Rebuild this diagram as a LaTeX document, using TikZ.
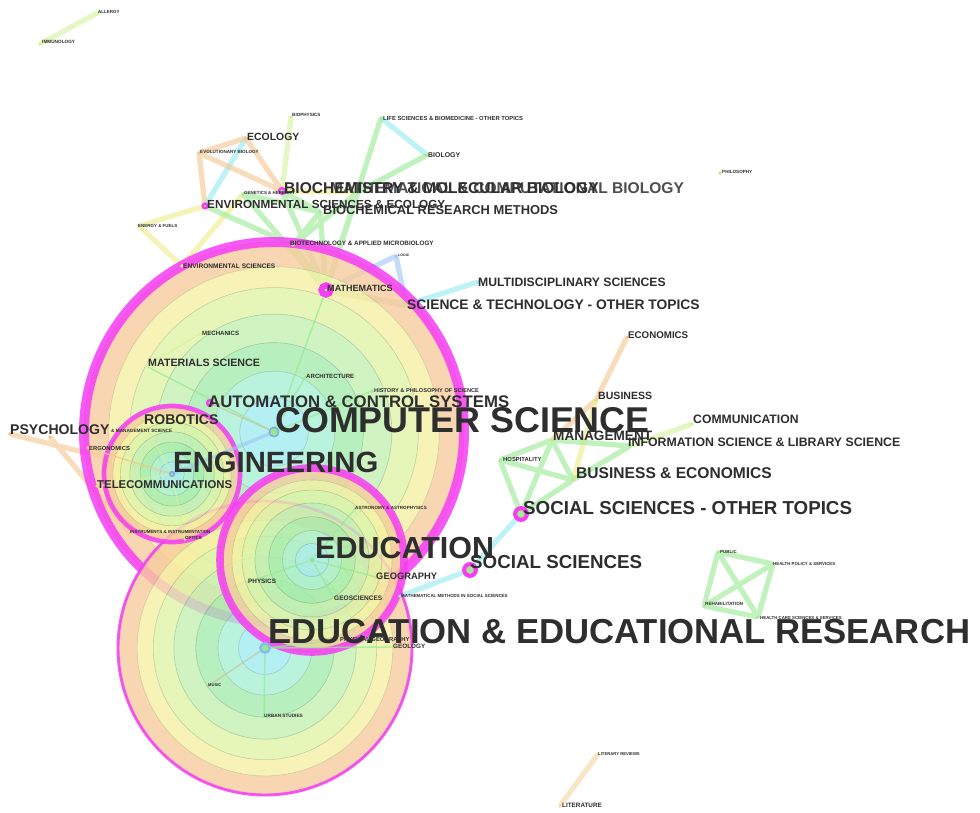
\documentclass[tikz,border=0pt]{standalone}
\usepackage{fontspec}
\setmainfont{Liberation Sans}
\usetikzlibrary{positioning}
\usetikzlibrary{calc}

\definecolor{labgray}{HTML}{2E2E2E}
\definecolor{burstmag}{HTML}{F53DF5}
\definecolor{ringpeach}{HTML}{F7CC9E}
\definecolor{ringyellow}{HTML}{F6F0A4}
\definecolor{ringlime}{HTML}{E0F4A8}
\definecolor{ringlgreen}{HTML}{C4F0B2}
\definecolor{ringgreen}{HTML}{A6EDAE}
\definecolor{ringmint}{HTML}{A8F0D2}
\definecolor{ringcyan}{HTML}{A2ECF2}
\definecolor{hubblue}{HTML}{7FA8E8}
\definecolor{hubgreen}{HTML}{9BE58C}
\definecolor{dotyellow}{HTML}{D9E07A}
\definecolor{dotgreen}{HTML}{A8E890}
\definecolor{lgreen}{HTML}{98EA92}
\definecolor{lyg}{HTML}{D4F29C}
\definecolor{lcyan}{HTML}{92EAF0}
\definecolor{lorange}{HTML}{F5C58E}
\definecolor{lyellow}{HTML}{EFEE8A}
\definecolor{lblue}{HTML}{9EC6F2}
\definecolor{lolive}{HTML}{C6C6A0}
\definecolor{lwheat}{HTML}{F2D7A2}

\pgfdeclarelayer{paper}
\pgfdeclarelayer{edges}
\pgfdeclarelayer{rings}
\pgfdeclarelayer{twigs}
\pgfsetlayers{paper,edges,rings,twigs,main}

% tree rings of a cluster node: centre, radius, width of the burst ring
\newcommand{\treerings}[3]{%
  \begin{scope}[transparency group, opacity=0.8]
    \foreach \rf/\rc in {1/ringpeach, 0.87/ringyellow, 0.76/ringlime, 0.62/ringlgreen,
                         0.47/ringgreen, 0.32/ringmint, 0.18/ringcyan}
      \filldraw[fill=\rc, draw=\rc!80!black, line width=0.5pt] (#1) circle[radius=\rf*#2];
  \end{scope}
  \draw[burstmag, line width=#3, opacity=0.85] (#1) circle[radius=#2];
}

\begin{document}
\begin{tikzpicture}[x=0.03cm, y=-0.03cm,
    lab/.style={anchor=west, inner sep=0pt, text=labgray,
      font=\bfseries\fontsize{#1}{#1}\selectfont},
    dot/.style={circle, fill=#1, inner sep=0pt, minimum size=3pt},
    dot/.default=dotyellow,
    hub/.style={circle, draw=hubblue, line width=1.2pt, fill=hubgreen,
      inner sep=0pt, minimum size=6pt},
    burst/.style={circle, draw=burstmag, line width=#1, fill=dotgreen,
      inner sep=0pt, minimum size=4pt},
    tie/.style={draw=#1, line width=4.5pt, line cap=round, draw opacity=0.6},
    twig/.style={draw=#1, line width=1.2pt, draw opacity=0.75}]

\useasboundingbox (0,0) rectangle (980,812);
\begin{pgfonlayer}{paper}
\fill[white] (0,0) rectangle (980,812);
\end{pgfonlayer}

% cluster centres and bursts
\node[hub, minimum size=8pt] (cs) at (274,432) {};
\node[hub, minimum size=4pt] (engineering) at (172,474) {};
\node[hub, draw=ringcyan] (education) at (312,560) {};
\node[hub, draw=ringcyan!80!blue, line width=2pt, minimum size=8pt] (edures) at (265,648) {};
\node[burst=5pt, minimum size=8pt] (mathematics) at (326,290) {};
\node[burst=3.5pt, minimum size=10pt] (socsciother) at (521,514) {};
\node[burst=3.5pt, minimum size=10pt] (socsci) at (470,570) {};
\node[burst=2pt, minimum size=5pt] (biochem) at (282,191) {};
\node[burst=2pt] (envscieco) at (205,206) {};
\node[burst=2pt, minimum size=5pt] (automation) at (210,403) {};

% small nodes
\node[dot=lyg] (immunology) at (40,44) {};
\node[dot=lyg] (allergy) at (99,12) {};
\node[dot=lyg] (biophysics) at (291,117) {};
\node[dot=dotgreen] (lifesci) at (381,118) {};
\node[dot=dotgreen] (biology) at (427,155) {};
\node[dot=lorange] (ecology) at (246,138) {};
\node[dot=lorange] (evolbio) at (199,153) {};
\node[dot=dotgreen] (genetics) at (243,194) {};
\node[dot=dotgreen] (mathcompbio) at (358,192) {};
\node[dot=dotgreen] (biochemres) at (320,212) {};
\node[dot=lyellow] (energy) at (139,226) {};
\node[dot=dotgreen] (biotech) at (293,245) {};
\node[dot=lblue] (logic) at (396,256) {};
\node[dot=lyellow] (envsci) at (182,266) {};
\node[dot=lcyan] (multidisc) at (478,282) {};
\node[dot] (scitech) at (406,305) {};
\node[dot] (philosophy) at (720,173) {};
\node[dot=lyg] (mechanics) at (200,334) {};
\node[dot=lyg] (materials) at (146,366) {};
\node[dot=dotgreen] (architecture) at (305,377) {};
\node[dot=dotgreen] (history) at (372,391) {};
\node[dot=lorange] (psychology) at (10,434) {};
\node[dot=lorange] (orsm) at (50,437) {};
\node[dot] (robotics) at (143,421) {};
\node[dot=lorange] (ergonomics) at (88,448) {};
\node[dot] (telecom) at (97,486) {};
\node[dot=lorange] (instruments) at (130,533) {};
\node[dot] (optics) at (185,539) {};
\node[dot=dotgreen] (astronomy) at (355,509) {};
\node[dot] (geography) at (376,577) {};
\node[dot] (physics) at (248,582) {};
\node[dot] (geosciences) at (334,598) {};
\node[dot=lcyan] (mathmethods) at (400,596) {};
\node[dot] (physgeo) at (340,640) {};
\node[dot] (geology) at (393,647) {};
\node[dot=lolive] (music) at (208,686) {};
\node[dot=dotgreen] (urban) at (264,716) {};
\node[dot=lorange] (economics) at (627,337) {};
\node[dot] (business) at (596,400) {};
\node[dot=lyg] (communication) at (692,424) {};
\node[dot] (management) at (552,440) {};
\node[dot=dotgreen] (infosci) at (630,446) {};
\node[dot=dotgreen] (hospitality) at (500,460) {};
\node[dot] (buseco) at (573,480) {};
\node[dot=dotgreen] (public) at (718,552) {};
\node[dot=dotgreen] (healthpol) at (773,564) {};
\node[dot=dotgreen] (rehab) at (704,606) {};
\node[dot=dotgreen] (healthcare) at (758,617) {};
\node[dot=lwheat] (litrev) at (598,754) {};
\node[dot=lwheat] (literature) at (560,806) {};

% co-occurrence links
\begin{pgfonlayer}{edges}
\draw[tie=lyg] (immunology) -- (allergy) (biophysics) -- (biochem)
  (infosci) -- (communication);
\draw[tie=lcyan] (lifesci) -- (biology) (ecology) -- (envscieco)
  (scitech) -- (multidisc) (socsci) -- (socsciother) (socsci) -- (mathmethods);
\draw[tie=lorange] (ecology) -- (evolbio) (evolbio) -- (envscieco)
  (evolbio) -- (biochem) (ecology) -- (biochem) (psychology) -- (engineering)
  (orsm) -- (instruments) (management) -- (business) (business) -- (economics);
\draw[tie=lwheat] (litrev) -- (literature);
\draw[tie=lyellow] (energy) -- (envscieco) (energy) -- (envsci)
  (envsci) -- (genetics) (biochem) -- (mathcompbio) (buseco) -- (business);
\draw[tie=lgreen] (lifesci) -- (mathematics) (biology) -- (mathcompbio)
  (biochem) -- (biochemres) (genetics) -- (biochemres) (genetics) -- (mathematics)
  (biochem) -- (mathematics) (biochemres) -- (mathematics) (biotech) -- (mathematics)
  (biochemres) -- (biotech) (mathcompbio) -- (biotech) (mathcompbio) -- (mathematics)
  (envscieco) -- (biotech);
\draw[tie=lgreen] (socsciother) -- (management) (socsciother) -- (hospitality)
  (socsciother) -- (buseco) (hospitality) -- (management) (hospitality) -- (buseco)
  (management) -- (buseco) (management) -- (infosci) (buseco) -- (infosci);
\draw[tie=lgreen] (public) -- (healthpol) (public) -- (rehab) (public) -- (healthcare)
  (healthpol) -- (rehab) (healthpol) -- (healthcare) (rehab) -- (healthcare);
\draw[tie=lblue] (mathematics) -- (logic) (logic) -- (scitech);
\draw[tie=lolive, line width=5.5pt] (mathematics) -- (scitech);
\end{pgfonlayer}

% the big clusters
\begin{pgfonlayer}{rings}
\treerings{cs}{190}{8.5pt}
\treerings{edures}{147}{2.5pt}
\treerings{engineering}{68}{4pt}
\treerings{education}{92}{6.5pt}
\end{pgfonlayer}

\begin{pgfonlayer}{twigs}
\draw[tie=lblue, line width=3pt] (cs) -- (engineering);
\draw[twig=lgreen] (cs) -- (mathematics) (cs) -- (architecture) (cs) -- (history)
  (cs) -- (materials) (education) -- (geography) (education) -- (physics)
  (education) -- (geosciences) (education) -- (astronomy) (edures) -- (urban)
  (edures) -- (physgeo) (edures) -- (geology);
\draw[twig=lolive] (cs) -- (automation) (edures) -- (music);
\draw[twig=lyg] (materials) -- (mechanics) (engineering) -- (robotics)
  (engineering) -- (telecom) (engineering) -- (optics);
\draw[twig=lorange] (engineering) -- (ergonomics);
\end{pgfonlayer}

% labels
\node[lab=3.8] (t-allergy) at (98,12) {ALLERGY};
\node[lab=4] (t-immunology) at (42,42) {IMMUNOLOGY};
\node[lab=3.9] (t-biophysics) at (292,115) {BIOPHYSICS};
\node[lab=5] (t-lifesci) at (383,118) {LIFE SCIENCES \& BIOMEDICINE - OTHER TOPICS};
\node[lab=5.9] (t-biology) at (428,155) {BIOLOGY};
\node[lab=8.9] (t-ecology) at (247,137) {ECOLOGY};
\node[lab=3.9] (t-evolbio) at (200,152) {EVOLUTIONARY BIOLOGY};
\node[lab=3.8] (t-genetics) at (244,193) {GENETICS \& HEREDITY};
\node[lab=13.3, text=labgray!85] (t-mathcompbio) at (330,188) {MATHEMATICAL \& COMPUTATIONAL BIOLOGY};
\node[lab=13.3] (t-biochem) at (284,188) {BIOCHEMISTRY \& MOLECULAR BIOLOGY};
\node[lab=10] (t-envscieco) at (207,204) {ENVIRONMENTAL SCIENCES \& ECOLOGY};
\node[lab=11] (t-biochemres) at (323,210) {BIOCHEMICAL RESEARCH METHODS};
\node[lab=3.8] (t-energy) at (138,226) {ENERGY \& FUELS};
\node[lab=5.4] (t-biotech) at (290,243) {BIOTECHNOLOGY \& APPLIED MICROBIOLOGY};
\node[lab=3] (t-logic) at (398,255) {LOGIC};
\node[lab=5.6] (t-envsci) at (183,266) {ENVIRONMENTAL SCIENCES};
\node[lab=7.7] (t-mathematics) at (327,288) {MATHEMATICS};
\node[lab=10.4] (t-multidisc) at (478,282) {MULTIDISCIPLINARY SCIENCES};
\node[lab=11.8] (t-scitech) at (407,305) {SCIENCE \& TECHNOLOGY - OTHER TOPICS};
\node[lab=3.9] (t-philosophy) at (722,172) {PHILOSOPHY};
\node[lab=5.2] (t-mechanics) at (202,333) {MECHANICS};
\node[lab=9.1] (t-materials) at (148,363) {MATERIALS SCIENCE};
\node[lab=5.2] (t-architecture) at (306,376) {ARCHITECTURE};
\node[lab=4.8] (t-history) at (374,391) {HISTORY \& PHILOSOPHY OF SCIENCE};
\node[lab=14.3] (t-automation) at (208,402) {AUTOMATION \& CONTROL SYSTEMS};
\node[lab=30.6] (t-cs) at (275,420) {COMPUTER SCIENCE};
\node[lab=4] (t-orsm) at (111,431) {\& MANAGEMENT SCIENCE};
\node[lab=12] (t-psychology) at (10,430) {PSYCHOLOGY};
\node[lab=12] (t-robotics) at (144,420) {ROBOTICS};
\node[lab=5] (t-ergonomics) at (89,448) {ERGONOMICS};
\node[lab=25] (t-engineering) at (173,462) {ENGINEERING};
\node[lab=9.7] (t-telecom) at (97,485) {TELECOMMUNICATIONS};
\node[lab=3.8] (t-instruments) at (130,532) {INSTRUMENTS \& INSTRUMENTATION};
\node[lab=3.8] (t-optics) at (185,538) {OPTICS};
\node[lab=3.9] (t-astronomy) at (355,508) {ASTRONOMY \& ASTROPHYSICS};
\node[lab=26] (t-education) at (315,548) {EDUCATION};
\node[lab=8] (t-geography) at (376,576) {GEOGRAPHY};
\node[lab=5.4] (t-physics) at (248,581) {PHYSICS};
\node[lab=5.6] (t-geosciences) at (334,598) {GEOSCIENCES};
\node[lab=3.8] (t-mathmethods) at (401,596) {MATHEMATICAL METHODS IN SOCIAL SCIENCES};
\node[lab=16] (t-socsci) at (470,562) {SOCIAL SCIENCES};
\node[lab=16] (t-socsciother) at (523,508) {SOCIAL SCIENCES - OTHER TOPICS};
\node[lab=5] (t-physgeo) at (340,639) {PHYSICAL GEOGRAPHY};
\node[lab=29.6] (t-edures) at (268,632) {EDUCATION \& EDUCATIONAL RESEARCH};
\node[lab=5.4] (t-geology) at (393,646) {GEOLOGY};
\node[lab=3.5] (t-music) at (208,685) {MUSIC};
\node[lab=4] (t-urban) at (264,716) {URBAN STUDIES};
\node[lab=8.3] (t-economics) at (628,335) {ECONOMICS};
\node[lab=9] (t-business) at (598,396) {BUSINESS};
\node[lab=10.4] (t-communication) at (693,419) {COMMUNICATION};
\node[lab=11.6] (t-management) at (553,436) {MANAGEMENT};
\node[lab=10.5] (t-infosci) at (628,442) {INFORMATION SCIENCE \& LIBRARY SCIENCE};
\node[lab=5] (t-hospitality) at (503,459) {HOSPITALITY};
\node[lab=13.3] (t-buseco) at (576,473) {BUSINESS \& ECONOMICS};
\node[lab=3.8] (t-public) at (720,552) {PUBLIC};
\node[lab=3.7] (t-healthpol) at (773,564) {HEALTH POLICY \& SERVICES};
\node[lab=3.9] (t-rehab) at (705,604) {REHABILITATION};
\node[lab=3.7] (t-healthcare) at (760,618) {HEALTH CARE SCIENCES \& SERVICES};
\node[lab=3.6] (t-litrev) at (598,754) {LITERARY REVIEWS};
\node[lab=5.4] (t-literature) at (562,805) {LITERATURE};
\end{tikzpicture}
\end{document}
